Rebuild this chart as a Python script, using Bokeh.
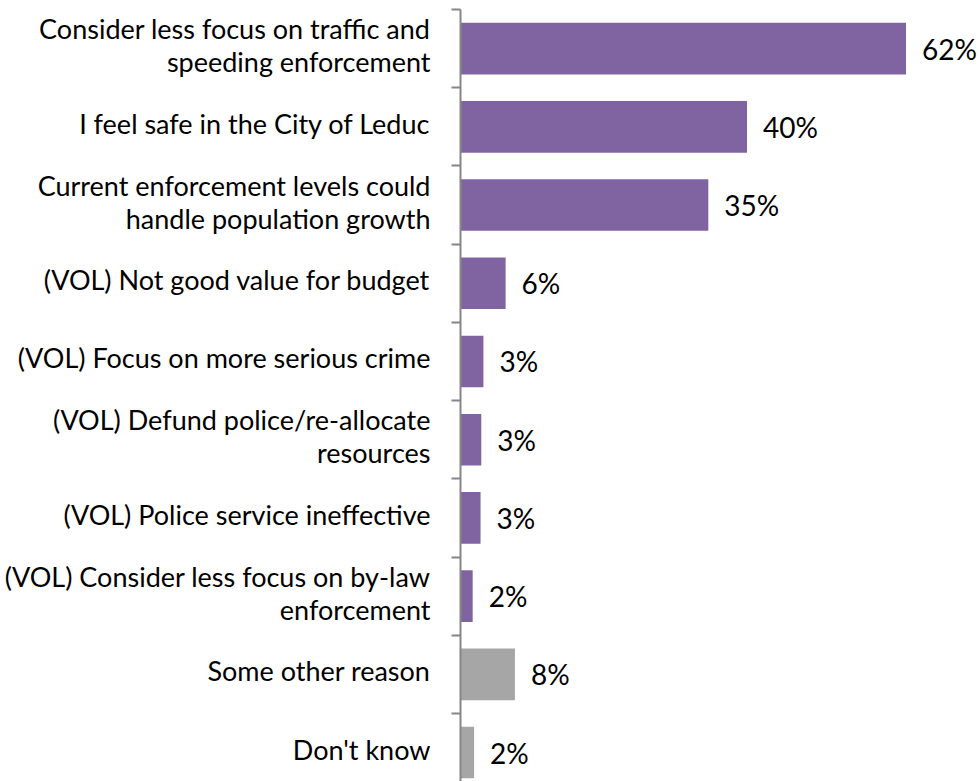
from bokeh.plotting import figure
from bokeh.models import Range1d, FixedTicker, ColumnDataSource
from bokeh.core.properties import value
from bokeh.embed import file_html
from bokeh.resources import INLINE

categories = [
    "Consider less focus on traffic and\nspeeding enforcement",
    "I feel safe in the City of Leduc",
    "Current enforcement levels could\nhandle population growth",
    "(VOL) Not good value for budget",
    "(VOL) Focus on more serious crime",
    "(VOL) Defund police/re-allocate\nresources",
    "(VOL) Police service ineffective",
    "(VOL) Consider less focus on by-law\nenforcement",
    "Some other reason",
    "Don't know",
]
values = [62.2, 40.0, 34.6, 6.3, 3.2, 2.9, 2.8, 1.7, 7.6, 1.9]
value_labels = ["62%", "40%", "35%", "6%", "3%", "3%", "3%", "2%", "8%", "2%"]
groups = ["reason"] * 8 + ["other"] * 2

PURPLE = "#8064A2"
GREY = "#A6A6A6"
FONT = "Lato"
LABEL_SHIFT = 0.045  # small upward nudge of category labels (style only)

pos = list(range(len(categories)))
colors = [PURPLE if g == "reason" else GREY for g in groups]
src = ColumnDataSource(dict(pos=pos, val=values, lab=value_labels, col=colors))

p = figure(width=980, height=781, output_backend="svg", toolbar_location=None,
           x_range=Range1d(0, 72.6), y_range=Range1d(9.37, -0.5),
           x_axis_location=None, min_border_left=460, min_border_right=0,
           min_border_top=9, min_border_bottom=0)
p.outline_line_color = None
p.grid.visible = False

p.hbar(y="pos", left=0, right="val", height=0.66, color="col", line_color=None, source=src)
p.text(x="val", y="pos", text="lab", x_offset=16, y_offset=0, text_baseline="middle", text_align="left",
       text_font=value(FONT), text_font_size="28px", text_color="#000000", source=src)

label_ticks = [i - LABEL_SHIFT for i in pos]
ax = p.yaxis[0]
ax.ticker = FixedTicker(ticks=label_ticks, minor_ticks=[i - 0.5 for i in range(len(categories) + 1)])
ax.major_label_overrides = {t: c for t, c in zip(label_ticks, categories)}
ax.major_tick_out = 0
ax.major_tick_in = 0
ax.minor_tick_out = 9
ax.minor_tick_in = 0
ax.minor_tick_line_color = "#868686"
ax.minor_tick_line_width = 2
ax.axis_line_color = "#868686"
ax.axis_line_width = 2
ax.major_label_standoff = 21
ax.major_label_text_font = FONT
ax.major_label_text_font_size = "27px"
ax.major_label_text_color = "#000000"
ax.major_label_text_line_height = 1.0

open("out.html", "w").write(file_html(p, INLINE))
